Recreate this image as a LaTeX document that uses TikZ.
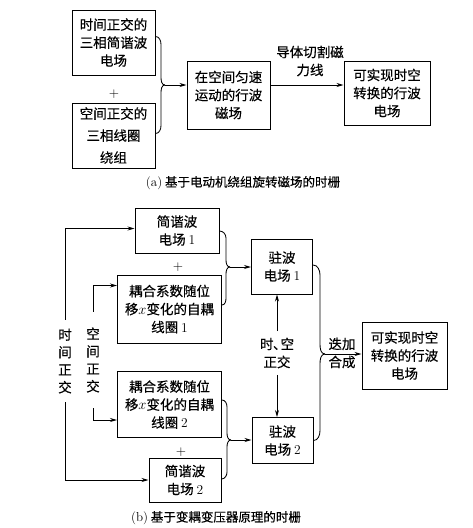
\documentclass[tikz,border=0pt]{standalone}
\usepackage{fontspec}
\newfontfamily\cjk[FakeBold=0.4]{Noto Sans CJK SC}
\usetikzlibrary{calc,arrows.meta}
\newcommand\brc[5]{%
  \draw[ln] (#1) to[out=0,in=90] ($(#1 -| #3)+(-#4,#5)$) -- ($(#3)+(-#4,-#5)$) to[out=-90,in=180] (#3);
  \draw[ln] (#2) to[out=0,in=-90] ($(#2 -| #3)+(-#4,-#5)$) -- ($(#3)+(-#4,#5)$) to[out=90,in=180] (#3);}
\begin{document}
\begin{tikzpicture}[x=1pt,y=-1pt,
  bx/.style={draw, line width=1pt, align=center, inner sep=0pt,
    font=\cjk\fontsize{13.5}{18}\selectfont},
  lbl/.style={align=center, inner sep=0pt, font=\cjk\fontsize{13.5}{18}\selectfont},
  vtx/.style={align=center, inner sep=0pt, font=\cjk\fontsize{13.5}{17.5}\selectfont},
  captxt/.style={inner sep=0pt, font=\cjk\fontsize{12.5}{15}\selectfont},
  ln/.style={line width=0.85pt},
  arr/.style={ln, -{Stealth[length=7pt,width=4pt]}}]
\useasboundingbox (0,0) rectangle (472,528);
% ---------- (a) ----------
\node[bx, minimum width=83pt, minimum height=65pt] (A1) at (113.5,42.5) {时间正交的\\三相简谐波\\电场};
\node[bx, minimum width=83pt, minimum height=65pt, font=\cjk\fontsize{13.5}{22}\selectfont] (A2) at (113.5,135.5) {空间正交的\\三相线圈\\绕组};
\node[lbl] (pA) at (114,94) {\textrm{+}};
\node[bx, minimum width=83pt, minimum height=68pt] (B) at (228.5,95) {在空间匀速\\运动的行波\\磁场};
\node[bx, minimum width=86pt, minimum height=64pt] (C) at (387,93) {可实现时空\\转换的行波\\电场};
\node[lbl] (cut) at (310,61) {导体切割磁\\力线};
\node[captxt] (capA) at (243,183) {\textrm{\fontsize{13}{15}\selectfont(a)} 基于电动机绕组旋转磁场的时栅};
\coordinate (a1e) at ([yshift=6pt]A1.east);
\coordinate (a2e) at ([yshift=2pt]A2.east);
\coordinate (atip) at (165,85);
\brc{a1e}{a2e}{atip}{4}{8}
\draw[arr] (atip) -- (atip -| B.west);
\draw[arr] ([yshift=10pt]B.east) -- ([yshift=10pt]B.east -| C.west);
% ---------- (b) ----------
\node[bx, minimum width=84pt, minimum height=45pt] (S1) at (177,230.5) {简谐波\\电场 \textrm{1}};
\node[lbl] (p1) at (178,267) {\textrm{+}};
\node[bx, minimum width=104pt, minimum height=68pt] (K1) at (169.5,309) {耦合系数随位\\移$x$变化的自耦\\线圈 \textrm{1}};
\node[bx, minimum width=61pt, minimum height=55pt] (Z1) at (282,266.5) {驻波\\电场 \textrm{1}};
\node[lbl, inner ysep=6.5pt] (TS) at (277,353) {时\kern-0.5pt、\kern-6pt空\\正交};
\node[bx, minimum width=61pt, minimum height=46pt] (Z2) at (282.5,440.5) {驻波\\电场 \textrm{2}};
\node[bx, minimum width=85pt, minimum height=67pt] (R) at (404.5,355.5) {可实现时空\\转换的行波\\电场};
\node[lbl] (DJ) at (342,353) {迭加\\合成};
\node[bx, minimum width=104pt, minimum height=66pt] (K2) at (169.5,404.5) {耦合系数随位\\移$x$变化的自耦\\线圈 \textrm{2}};
\node[lbl] (p2) at (181,452) {\textrm{+}};
\node[bx, minimum width=72pt, minimum height=44pt] (S2) at (185,480) {简谐波\\电场 \textrm{2}};
\node[captxt] (capB) at (216,518) {\textrm{\fontsize{13}{15}\selectfont(b)} 基于变耦变压器原理的时栅};
\node[vtx, minimum height=82pt] (T) at (65,361) {时\\间\\正\\交};
\node[vtx, minimum height=96pt] (Sp) at (93,360) {空\\间\\正\\交};
% left feeds
\draw[arr] (T.north) |- ([yshift=2pt]S1.west);
\draw[arr] (T.south) |- (S2.west);
\draw[arr] (Sp.north) |- ([yshift=-11pt]K1.north west);
\draw[arr] (Sp.south) |- ([yshift=18pt]K2.south west);
% braces
\coordinate (s1e) at ([yshift=-0.5pt]S1.east);
\coordinate (k1e) at ([yshift=4pt]K1.east);
\coordinate (t1) at (230,267);
\brc{s1e}{k1e}{t1}{4}{7}
\draw[arr] (t1) -- (t1 -| Z1.west);
\coordinate (k2e) at ([yshift=4.5pt]K2.east);
\coordinate (s2e) at ([yshift=1pt]S2.east);
\coordinate (t2) at (231,440);
\brc{k2e}{s2e}{t2}{4}{7}
\draw[arr] (t2) -- (t2 -| Z2.west);
\coordinate (z1e) at ([yshift=1.5pt]Z1.east);
\coordinate (z2e) at (Z2.east);
\coordinate (rt) at (325,354);
\brc{z1e}{z2e}{rt}{5}{10}
\draw[arr] (rt) -- (rt -| R.west);
% orthogonality arrows
\draw[arr] (TS.north) -- (TS.north |- Z1.south);
\draw[arr] (TS.south) -- (TS.south |- Z2.north);
\end{tikzpicture}
\end{document}
